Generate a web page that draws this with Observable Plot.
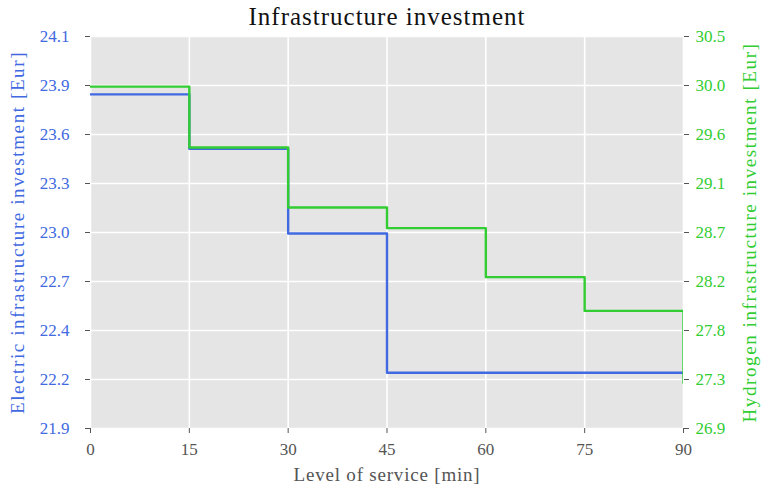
<!DOCTYPE html>
<html>
<head>
<meta charset="utf-8">
<script src="https://cdn.jsdelivr.net/npm/d3@7"></script>
<script src="https://cdn.jsdelivr.net/npm/@observablehq/plot@0.6"></script>
<style>
  html, body { margin: 0; padding: 0; background: #fff; }
  #chart svg { display: block; }
  g[aria-label="x-axis label"] text { font-size: 19px; letter-spacing: 0.8px; }
  g[aria-label="y-axis label"] text { font-size: 19px; letter-spacing: 1.6px; }
  g[aria-label="text"] text { letter-spacing: 1px; }
</style>
</head>
<body>
<div id="chart"></div>
<script>
// ---- data ----
const levels = [0, 15, 30, 45, 60, 75, 90];
const electric = [23.805, 23.49, 22.999, 22.193, 22.193, 22.193, 22.193];
const hydrogen = [30.02, 29.46, 28.91, 28.72, 28.27, 27.96, 27.30];
const xTicks = [0, 15, 30, 45, 60, 75, 90];
const eDomain = [21.87, 24.14];
const hDomain = [26.88, 30.48];
const eTickLabels = ["21.9", "22.2", "22.4", "22.7", "23.0", "23.3", "23.6", "23.9", "24.1"];
const hTickLabels = ["26.9", "27.3", "27.8", "28.2", "28.7", "29.1", "29.6", "30.0", "30.5"];

const BLUE = "#4169e1";
const GREEN = "#32cd32";
const GRAY = "#555555";
const FONT = "'Liberation Serif', serif";

// map hydrogen values onto the electric (left) scale
const hToE = d3.scaleLinear().domain(hDomain).range(eDomain);
const yTicks = d3.range(eTickLabels.length).map(i => eDomain[0] + i * (eDomain[1] - eDomain[0]) / (eTickLabels.length - 1));

const eData = levels.map((x, i) => ({x, y: electric[i]}));
const hData = levels.map((x, i) => ({x, y: hToE(hydrogen[i])}));

const chart = Plot.plot({
  width: 761,
  height: 490,
  marginLeft: 90,
  marginRight: 78,
  marginTop: 36,
  marginBottom: 62,
  style: {fontFamily: FONT, fontSize: "17px", background: "#fff"},
  x: {domain: [0, 90]},
  y: {domain: eDomain},
  marks: [
    Plot.frame({fill: "#e5e5e5", stroke: null}),
    Plot.gridX(xTicks, {stroke: "#fff", strokeOpacity: 1, strokeWidth: 1.6}),
    Plot.gridY(yTicks, {stroke: "#fff", strokeOpacity: 1, strokeWidth: 1.6}),
    Plot.axisX(xTicks, {
      tickSize: 5, tickPadding: 9, stroke: GRAY, fill: GRAY,
      label: "Level of service [min]", labelAnchor: "center", labelArrow: "none", labelOffset: 52,
      fontSize: 17
    }),
    Plot.axisY(yTicks, {
      anchor: "left", tickSize: 5, tickPadding: 16, stroke: GRAY, fill: BLUE,
      tickFormat: (d, i) => eTickLabels[i],
      label: "Electric infrastructure investment [Eur]", labelAnchor: "center", labelArrow: "none", labelOffset: 80,
      fontSize: 17
    }),
    Plot.axisY(yTicks, {
      anchor: "right", tickSize: 5, tickPadding: 7, stroke: GRAY, fill: GREEN,
      tickFormat: (d, i) => hTickLabels[i],
      label: "Hydrogen infrastructure investment [Eur]", labelAnchor: "center", labelArrow: "none", labelOffset: 72,
      fontSize: 17
    }),
    Plot.line(eData, {x: "x", y: "y", curve: "step-after", stroke: BLUE, strokeWidth: 2.4, clip: true}),
    Plot.line(hData, {x: "x", y: "y", curve: "step-after", stroke: GREEN, strokeWidth: 2.4, clip: true}),
    Plot.text(["Infrastructure investment"], {frameAnchor: "top", dy: -29, fontSize: 25, fill: "#111"})
  ]
});
document.getElementById("chart").appendChild(chart);
</script>
</body>
</html>
